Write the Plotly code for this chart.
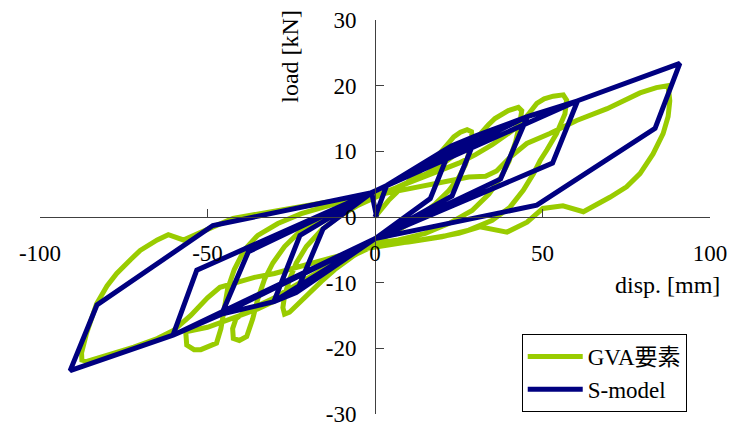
import plotly.graph_objects as go

# GVA element response: displacement [mm] and load [kN]
gva_disp = [
    0, 4, 8, 12, 16, 19, 21.5, 23.5, 25.5, 27.5, 28.8, 29, 28.2, 27, 25, 22, 18, 13, 8, 3, 0,
    -4, -8, -12, -16, -20, -23, -25.5, -27, -27.5, -27, -25.5, -23.5, -20.5, -16, -11, -5, 0,
    5, 10, 15, 20, 25, 30, 33.8, 35.8, 39.8, 42.8, 43.8, 43.3, 42, 40, 37.5, 34, 29, 22, 15, 7, 0,
    -5, -10, -15, -20, -25, -30, -35, -38.5, -41.5, -42.5, -42.3, -40.5, -38.3, -36.5, -35, -33,
    -30.5, -27, -22, -15, -8, 0,
    5, 10, 15, 20, 25, 30, 35, 40, 43, 46, 48.3, 50.5, 53.2, 56.2, 57.2, 56.7, 54.2, 51.3, 49.3,
    47.3, 44.3, 40.3, 35, 28, 20, 10, 0,
    -5, -10, -15, -20, -25, -30, -35, -40, -45, -50, -54, -56.5, -56.2, -54, -52, -49, -47.3, -46,
    -45, -44, -42, -39, -35, -29, -22, -12, 0,
    5, 10, 15, 20, 25, 28, 33, 36.3, 40.3, 45.3, 52.2, 60.2, 69.3, 79.1, 84, 87.5, 88, 87.5, 86,
    83, 79.1, 75.1, 70.1, 62.2, 56.1, 50.1, 45.4, 39.4, 31.3, 25, 19.4, 10, 0,
    -5, -10, -15, -20, -25, -30, -36, -42, -46.3, -50, -55, -60.2, -65, -72, -77, -82, -86, -87.5,
    -87.6, -86.1, -83.1, -80, -77.1, -73, -70.1, -65, -61.7, -57.2, -53, -48.3, -42.4, -35, -25,
    -15, -5, 0,
]
gva_load = [
    0, 2.5, 4.5, 6.3, 8, 9.5, 11, 12.2, 12.9, 13.3, 13, 12, 10, 8, 6, 4, 2, 0, -1.7, -3, -3.8,
    -5, -6.5, -8, -9.8, -11.8, -13.3, -14.5, -14.8, -13.8, -12, -9.5, -7, -4.5, -2, 0, 1.8, 3,
    4, 5.3, 6.5, 8, 9.8, 11.8, 14, 15, 16.2, 16.7, 16.2, 14.5, 11.5, 8.5, 6, 3.5, 1, -1, -2.5, -3.5, -4,
    -5, -6.3, -7.8, -9.3, -11, -12.3, -13.5, -14.3, -15.5, -17, -18.5, -18.8, -18.2, -15.5, -12.5, -9.5,
    -7, -4.5, -2, 0, 1.8, 3.2,
    4.2, 5, 6, 7, 8.2, 9.5, 11, 12.8, 14, 15.8, 17.3, 18, 18.4, 18.6, 17.8, 15.7, 12.7, 10.2, 8.6,
    6.6, 4.1, 1.5, -0.5, -2, -3, -3.8, -4.3,
    -5.5, -7, -8.5, -10, -11.5, -12.8, -14, -15, -16, -16.8, -17.2, -17.5, -19.5, -20.2, -20.2, -19.6, -19.2, -17,
    -14, -11, -8, -5, -2.8, -1, 0.5, 2, 3.3,
    3.8, 4.3, 4.7, 5.2, 5.8, 6.1, 6.2, 7, 9.1, 11.2, 12.7, 14.7, 16.5, 18.9, 19.7, 20, 17.7, 15.3, 12.7,
    9.6, 6.6, 4.6, 3, 0.8, 1.7, 1.3, -0.8, -2.3, -1.5, -2.5, -3, -3.8, -4.5,
    -5, -5.8, -6.5, -7.3, -8, -8.6, -9.2, -10, -10.7, -12.3, -15, -17.3, -18.5, -19.8, -20.6, -21.5, -22, -21.8,
    -20.7, -17.7, -13.2, -10.5, -8.6, -6.5, -5.1, -3.5, -2.7, -3.5, -2.5, -1.5, -0.2, 0.5, 1.3,
    2.2, 2.8, 3,
]

# S-model (piecewise-linear hysteresis) path
s_disp = [
    0, 3.5, 22.8, 16.5, 0, -23.5, -15.5, -1, 3.5,
    22.8, 30.3, 23, 0, -23.5, -30.2, -22.4, -1, 3.5,
    30.3, 45.5, 37.5, 0, -30.2, -45.8, -37.8, -1, 3.5,
    45.5, 60.5, 53, 0, -45.8, -60.3, -53.2, -1, 3.5,
    60.5, 91, 83.6, 48.3, 0, -60.3, -91, -83, -48.4, -1, 0.5,
]
s_load = [
    0, 4.8, 10.8, 2.8, -3.3, -11.5, -1.8, 3.7, 4.8,
    10.8, 12.4, 3.2, -3.3, -11.5, -12.9, -2.8, 3.7, 4.8,
    12.4, 15.3, 5.8, -3.3, -12.9, -14.8, -5.3, 3.7, 4.8,
    15.3, 17.7, 8.2, -3.3, -14.8, -18, -8.1, 3.7, 4.8,
    17.7, 23.4, 13.5, 1.8, -3.3, -18, -23.4, -13.4, -1.3, 3.7, 0,
]

x_ticks = [-100, -50, 0, 50, 100]
x_tick_text = ["-100", "-50", "0", "50", "100"]
y_ticks = [-30, -20, -10, 0, 10, 20, 30]
y_tick_text = ["-30", "-20", "-10", "0", "10", "20", "30"]

SERIF = "Liberation Serif, Noto Sans CJK JP, serif"
AXIS_COLOR = "#404040"

fig = go.Figure()
fig.add_trace(go.Scatter(
    x=gva_disp, y=gva_load, mode="lines", name="GVA要素",
    line=dict(color="#99CC00", width=5),
))
fig.add_trace(go.Scatter(
    x=s_disp, y=s_load, mode="lines", name="S-model",
    line=dict(color="#000080", width=5),
))

fig.update_layout(
    width=741, height=426,
    margin=dict(l=40, r=31, t=20, b=12),
    paper_bgcolor="white", plot_bgcolor="white",
    font=dict(family=SERIF, size=23, color="black"),
    showlegend=True,
    legend=dict(
        x=0.719, y=0.203, xanchor="left", yanchor="top",
        bordercolor="black", borderwidth=1, bgcolor="white",
        font=dict(family=SERIF, size=23),
        itemwidth=55,
        tracegroupgap=6,
    ),
    xaxis=dict(
        range=[-100, 100], anchor="free", position=0.5,
        showline=True, linecolor=AXIS_COLOR, linewidth=1,
        zeroline=False, showgrid=False, automargin=False,
        ticks="inside", ticklen=8, tickcolor=AXIS_COLOR,
        tickvals=x_ticks, ticktext=x_tick_text,
        ticklabelstandoff=15, ticklabeloverflow="allow",
    ),
    yaxis=dict(
        range=[-30, 30], anchor="free", position=0.5,
        showline=True, linecolor=AXIS_COLOR, linewidth=1,
        zeroline=False, showgrid=False, automargin=False,
        ticks="inside", ticklen=8, tickcolor=AXIS_COLOR,
        tickvals=y_ticks, ticktext=y_tick_text,
        ticklabelstandoff=14, ticklabeloverflow="allow",
    ),
    annotations=[
        dict(text="load [kN]", xref="paper", yref="paper", x=0.373, y=0.909,
             xanchor="center", yanchor="middle",
             showarrow=False, textangle=-90, font=dict(family=SERIF, size=24)),
        dict(text="disp. [mm]", xref="paper", yref="paper", x=0.936, y=0.327,
             xanchor="center", yanchor="middle",
             showarrow=False, font=dict(family=SERIF, size=24)),
    ],
)

fig.write_html("out.html")
